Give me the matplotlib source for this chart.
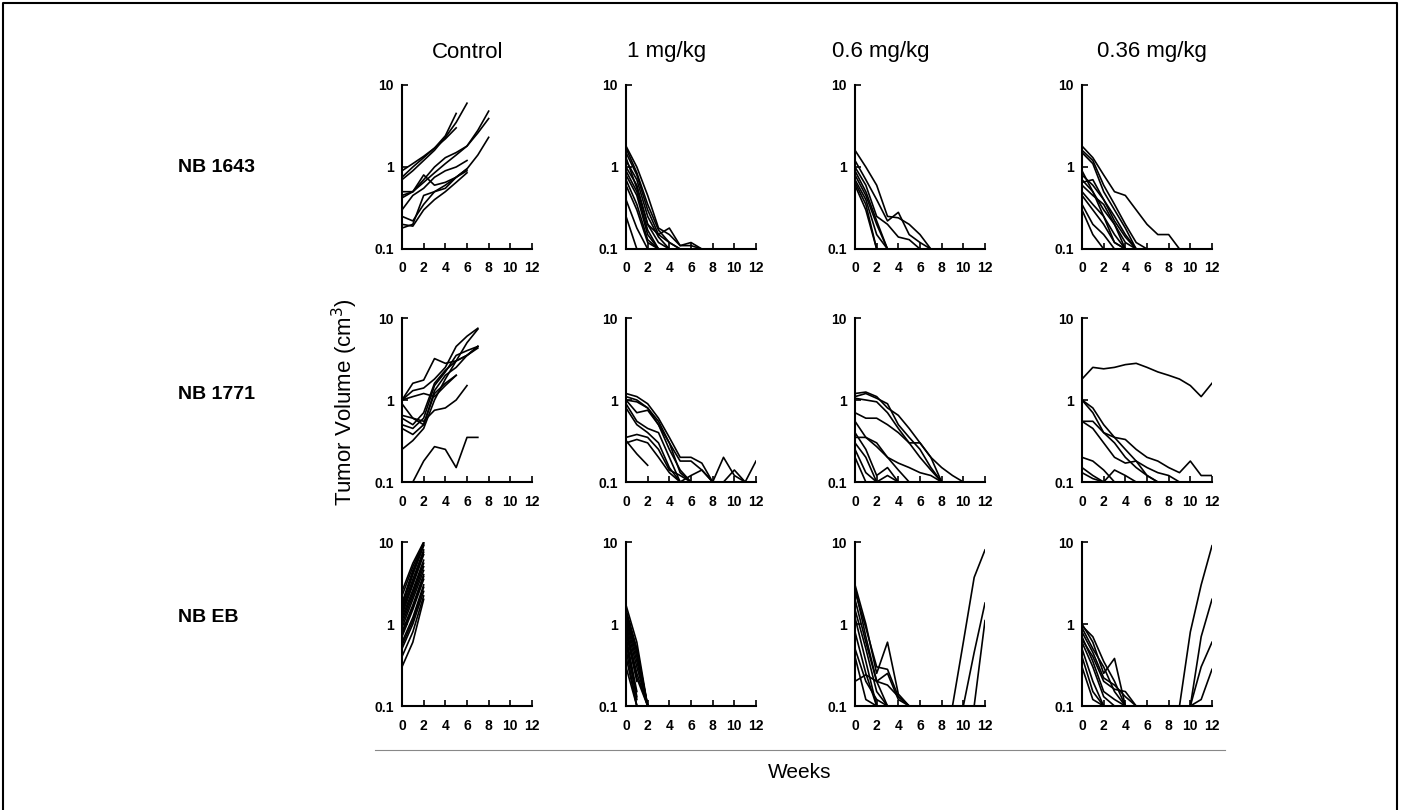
import numpy as np
import matplotlib
matplotlib.use("Agg")
import matplotlib.pyplot as plt
from matplotlib.lines import Line2D

plt.rcParams['font.family'] = ['Liberation Sans', 'DejaVu Sans']

# ---------------- data (tumor volume, cm^3, weekly from week 0) ----------------
col_titles = ["Control", "1 mg/kg", "0.6 mg/kg", "0.36 mg/kg"]
row_labels = ["NB 1643", "NB 1771", "NB EB"]
x_ticks = [0, 2, 4, 6, 8, 10, 12]
y_ticks = [0.1, 1, 10]
y_tick_labels = ["0.1", "1", "10"]

nb1643_control = [
    [0.7, 0.9, 1.2, 1.6, 2.3, 3.5, 6.0],
    [0.75, 1.0, 1.3, 1.7, 2.4, 4.5],
    [0.9, 1.1, 1.35, 1.7, 2.2, 3.0],
    [0.45, 0.5, 0.65, 0.85, 1.1, 1.4, 1.8, 2.8, 4.8],
    [0.42, 0.5, 0.7, 1.0, 1.3, 1.5, 1.8, 2.6, 3.9],
    [0.25, 0.22, 0.35, 0.5, 0.6, 0.75, 0.95, 1.4, 2.3],
    [0.3, 0.45, 0.55, 0.75, 0.9, 1.0, 1.2],
    [0.2, 0.19, 0.3, 0.4, 0.5, 0.65, 0.85],
    [0.18, 0.2, 0.45, 0.5, 0.55, 0.75, 0.9],
    [0.5, 0.5, 0.8, 0.6, 0.65, 0.75, 0.95],
]
nb1643_1mg = [
    [1.8, 1.0, 0.45, 0.18, 0.15, 0.11, 0.12, 0.1],
    [1.7, 0.85, 0.35, 0.17, 0.12, 0.1],
    [1.5, 0.8, 0.3, 0.15, 0.18, 0.11, 0.11, 0.1],
    [1.2, 0.7, 0.25, 0.14, 0.1],
    [1.0, 0.6, 0.2, 0.12, 0.1],
    [0.9, 0.5, 0.17, 0.1],
    [0.8, 0.45, 0.15, 0.1],
    [0.6, 0.3, 0.12, 0.1],
    [0.4, 0.18, 0.1],
    [0.25, 0.1],
    [1.3, 0.55, 0.2, 0.15, 0.12, 0.1],
    [0.7, 0.35, 0.13, 0.1],
]
nb1643_06mg = [
    [1.6, 1.0, 0.6, 0.25, 0.24, 0.2, 0.15, 0.1],
    [1.2, 0.7, 0.4, 0.22, 0.28, 0.15, 0.12, 0.1],
    [1.0, 0.6, 0.25, 0.2, 0.14, 0.13, 0.1],
    [0.9, 0.5, 0.22, 0.1],
    [0.7, 0.4, 0.15, 0.1],
    [0.65, 0.35, 0.1],
    [0.6, 0.3, 0.1],
    [0.8, 0.45, 0.2, 0.1],
]
nb1643_036mg = [
    [1.8, 1.3, 0.8, 0.5, 0.45, 0.3, 0.2, 0.15, 0.15, 0.1],
    [1.6, 1.2, 0.6, 0.35, 0.2, 0.12, 0.1],
    [1.5, 1.1, 0.5, 0.3, 0.18, 0.1],
    [0.8, 0.6, 0.4, 0.25, 0.15, 0.1],
    [0.7, 0.5, 0.3, 0.2, 0.12, 0.1],
    [0.6, 0.45, 0.35, 0.2, 0.1],
    [0.5, 0.35, 0.25, 0.15, 0.1],
    [0.45, 0.3, 0.2, 0.12, 0.1],
    [0.35, 0.2, 0.15, 0.1],
    [0.3, 0.15, 0.1],
    [0.9, 0.5, 0.25, 0.12, 0.1],
    [0.65, 0.7, 0.4, 0.22, 0.14, 0.1],
]
nb1771_control = [
    [0.1, 0.1, 0.18, 0.27, 0.25, 0.15, 0.35, 0.35],
    [0.25, 0.32, 0.45, 1.0, 1.8, 3.0, 5.0, 7.3],
    [1.0, 1.6, 1.75, 3.2, 2.8, 3.0, 3.5, 4.5],
    [0.65, 0.6, 0.55, 0.75, 0.8, 1.0, 1.5],
    [1.0, 1.3, 1.4, 1.8, 2.5, 4.5, 6.0, 7.5],
    [0.45, 0.38, 0.5, 1.2, 1.6, 2.0],
    [0.9, 0.6, 0.5, 1.3, 2.0, 2.5, 3.5, 4.5],
    [0.5, 0.45, 0.6, 1.5, 2.2, 3.5, 4.0, 4.5],
    [1.0, 1.1, 1.2, 1.1, 1.5, 2.0],
    [0.6, 0.5, 0.7, 1.6, 2.3, 3.0, 3.5, 4.3],
]
nb1771_1mg = [
    [1.2, 1.1, 0.9, 0.6, 0.35, 0.2, 0.2, 0.17, 0.1],
    [1.1, 1.0, 0.8, 0.55, 0.3, 0.18, 0.18, 0.14, 0.1, 0.1],
    [1.0, 0.7, 0.75, 0.5, 0.25, 0.14, 0.1],
    [0.9, 0.55, 0.45, 0.4, 0.2, 0.1],
    [0.8, 0.5, 0.4, 0.3, 0.15, 0.1, 0.1],
    [0.35, 0.38, 0.35, 0.25, 0.14, 0.12, 0.1, 0.1, 0.1, 0.2, 0.12, 0.1],
    [0.3, 0.33, 0.3, 0.2, 0.13, 0.1, 0.12, 0.14, 0.1, 0.1, 0.14, 0.1, 0.18],
    [0.32, 0.22, 0.16],
    [1.0, 0.95, 0.8, 0.5, 0.3, 0.13, 0.1],
]
nb1771_06mg = [
    [1.2, 1.25, 1.1, 0.8, 0.65, 0.45, 0.3, 0.2, 0.1],
    [1.1, 1.2, 1.05, 0.9, 0.5, 0.35, 0.25, 0.15, 0.1],
    [1.05, 1.0, 0.95, 0.7, 0.45, 0.3, 0.2, 0.14, 0.1],
    [0.7, 0.6, 0.6, 0.5, 0.4, 0.3, 0.3, 0.2, 0.15, 0.12, 0.1],
    [0.55, 0.35, 0.27, 0.2, 0.17, 0.15, 0.13, 0.12, 0.1],
    [0.35, 0.35, 0.3, 0.2, 0.14, 0.1],
    [0.4, 0.25, 0.12, 0.15, 0.1, 0.1],
    [0.3, 0.2, 0.1, 0.12, 0.1],
    [0.25, 0.13, 0.1],
    [0.2, 0.1],
]
nb1771_036mg = [
    [1.8, 2.5, 2.4, 2.5, 2.7, 2.8, 2.5, 2.2, 2.0, 1.8, 1.5, 1.1, 1.6],
    [1.0, 0.8, 0.5, 0.35, 0.25, 0.18, 0.15, 0.13, 0.12, 0.1],
    [1.0, 0.7, 0.4, 0.3, 0.2, 0.15, 0.12, 0.1],
    [0.55, 0.55, 0.4, 0.35, 0.33, 0.25, 0.2, 0.18, 0.15, 0.13, 0.18, 0.12, 0.12],
    [0.55, 0.45, 0.3, 0.2, 0.17, 0.18, 0.12, 0.1],
    [0.2, 0.18, 0.14, 0.1],
    [0.13, 0.11, 0.1, 0.14, 0.12, 0.1],
    [0.15, 0.12, 0.1, 0.1],
]
nbeb_control = [
    [2.5, 5.5, 10.0],
    [2.2, 5.0, 9.8],
    [1.8, 4.5, 9.5],
    [1.7, 4.2, 9.2],
    [1.6, 4.0, 9.0],
    [1.5, 3.5, 8.0],
    [1.4, 3.2, 7.5],
    [1.3, 3.0, 7.0],
    [1.2, 2.6, 6.0],
    [1.1, 2.4, 5.5],
    [1.0, 2.2, 5.0],
    [0.9, 2.0, 4.5],
    [0.8, 1.7, 4.0],
    [0.75, 1.6, 3.8],
    [0.7, 1.5, 3.5],
    [0.6, 1.2, 3.0],
    [0.55, 1.1, 2.8],
    [0.5, 1.0, 2.5],
    [0.4, 0.8, 2.2],
    [0.3, 0.6, 2.0],
]
nbeb_1mg = [
    [1.7, 0.6, 0.1],
    [1.5, 0.5, 0.1],
    [1.4, 0.48, 0.1],
    [1.3, 0.45, 0.1],
    [1.2, 0.4, 0.1],
    [1.1, 0.35, 0.1],
    [1.0, 0.3, 0.1],
    [0.9, 0.25, 0.1],
    [0.85, 0.22, 0.1],
    [0.8, 0.2],
    [0.7, 0.15],
    [0.65, 0.13],
    [0.6, 0.12],
    [0.5, 0.1],
    [0.4, 0.1],
    [0.3, 0.1],
]
nbeb_06mg = [
    [3.0, 1.0, 0.25, 0.6, 0.14, 0.1, 0.1, 0.1, 0.1, 0.1, 0.6, 3.7, 8.0],
    [2.5, 0.9, 0.3, 0.28, 0.13, 0.1, 0.1, 0.1, 0.1, 0.1, 0.1, 0.45, 1.8],
    [2.0, 0.6, 0.2, 0.25, 0.12, 0.1, 0.1, 0.1, 0.1, 0.1, 0.1, 0.1, 1.1],
    [1.5, 0.5, 0.15, 0.1],
    [1.2, 0.35, 0.1],
    [0.8, 0.25, 0.1],
    [0.5, 0.2, 0.12, 0.1],
    [0.2, 0.24, 0.2, 0.18, 0.13, 0.1],
    [0.4, 0.12, 0.1],
    [2.8, 0.7, 0.2, 0.1],
]
nbeb_036mg = [
    [1.0, 0.6, 0.25, 0.38, 0.1, 0.1, 0.1, 0.1, 0.1, 0.1, 0.8, 3.0, 9.0],
    [0.9, 0.5, 0.3, 0.15, 0.1, 0.1, 0.1, 0.1, 0.1, 0.1, 0.1, 0.7, 2.0],
    [0.8, 0.45, 0.22, 0.18, 0.13, 0.1, 0.1, 0.1, 0.1, 0.1, 0.1, 0.3, 0.6],
    [0.7, 0.35, 0.15, 0.12, 0.1, 0.1, 0.1, 0.1, 0.1, 0.1, 0.1, 0.12, 0.28],
    [0.6, 0.3, 0.13, 0.1],
    [0.5, 0.2, 0.1],
    [0.4, 0.15, 0.1],
    [0.3, 0.12, 0.1],
    [0.95, 0.7, 0.35, 0.2, 0.1],
    [0.65, 0.4, 0.2, 0.16, 0.15, 0.1],
]

panels = [
    [nb1643_control, nb1643_1mg, nb1643_06mg, nb1643_036mg],
    [nb1771_control, nb1771_1mg, nb1771_06mg, nb1771_036mg],
    [nbeb_control, nbeb_1mg, nbeb_06mg, nbeb_036mg],
]

# ---------------- layout ----------------
W, H = 1401, 810
fig = plt.figure(figsize=(W / 100, H / 100), dpi=100)
col_left_px = [402, 626, 855, 1082]
row_top_px = [85, 318, 542]
ax_w_px, ax_h_px = 130, 164

for r in range(3):
    for c in range(4):
        ax = fig.add_axes([col_left_px[c] / W, (H - row_top_px[r] - ax_h_px) / H,
                           ax_w_px / W, ax_h_px / H])
        for series in panels[r][c]:
            wk = np.arange(len(series))
            ax.plot(wk, series, color='black', lw=1.2, solid_joinstyle='round')
        ax.set_yscale('log')
        ax.set_xlim(0, 12)
        ax.set_ylim(0.1, 10)
        ax.set_xticks(x_ticks)
        ax.set_xticklabels([str(t) for t in x_ticks], fontsize=10, fontweight='bold')
        ax.set_yticks(y_ticks)
        ax.set_yticklabels(y_tick_labels, fontsize=10, fontweight='bold')
        ax.yaxis.set_minor_locator(matplotlib.ticker.NullLocator())
        ax.tick_params(direction='in', length=4, width=1.2)
        ax.tick_params(axis='x', pad=9)
        ax.tick_params(axis='y', pad=6)
        for s in ['top', 'right']:
            ax.spines[s].set_visible(False)
        for s in ['left', 'bottom']:
            ax.spines[s].set_linewidth(1.5)
        ax.patch.set_alpha(0)

# column titles
title_x_px = [468, 667, 881, 1152]
for c, t in enumerate(col_titles):
    fig.text(title_x_px[c] / W, 1 - 52 / H, t, ha='center', va='center', fontsize=16)
# row labels
for r, t in enumerate(row_labels):
    fig.text(178 / W, 1 - [167, 395, 617][r] / H, t, ha='left', va='center',
             fontsize=14, fontweight='bold')

fig.text(345 / W, 1 - 402 / H, "Tumor Volume (cm$^3$)", rotation=90, ha='center', va='center', fontsize=16)
fig.text(800 / W, 1 - 773 / H, "Weeks", ha='center', va='center', fontsize=15)

# separator line and frame
fig.add_artist(Line2D([375 / W, 1225 / W], [1 - 750 / H, 1 - 750 / H], color='#888888', lw=0.8))
fig.add_artist(Line2D([3 / W, 3 / W, 1397 / W, 1397 / W], [0, 1 - 3 / H, 1 - 3 / H, 0], color='black', lw=1.5))

fig.savefig("out.png", dpi=100)
